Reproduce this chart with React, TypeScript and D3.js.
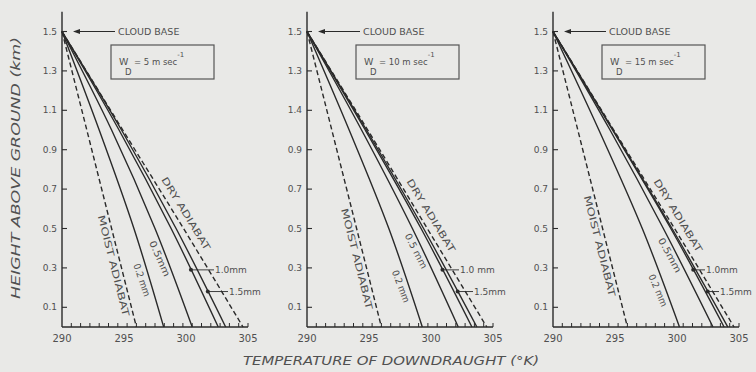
import React from "react";
import * as d3 from "d3";

// ---------- data ----------
const HEIGHTS = [1.5, 1.0, 0.5, 0];
const SPEEDS = ["5", "10", "15"];
const X_TICK_LABELS = [290, 295, 300, 305];
const Y_TICK_VALUES = [0.1, 0.3, 0.5, 0.7, 0.9, 1.1, 1.3, 1.5];
const Y_LABELS_1 = ["0.1", "0.3", "0.5", "0.7", "0.9", "1.1", "1.3", "1.5"];
const Y_LABELS_2 = ["0.1", "0.3", "0.5", "0.7", "0.9", "1.4", "1.3", "1.5"];
const Y_LABELS_3 = ["0.1", "0.3", "0.5", "0.7", "0.9", "1.1", "1.3", "1.5"];

// temperatures (K) at HEIGHTS for each panel
const dry5 = [290, 294.9, 299.8, 304.6];
const moist5 = [290, 292.0, 294.0, 296.0];
const mm02_5 = [290, 293.0, 295.8, 298.2];
const mm05_5 = [290, 294.0, 297.5, 300.5];
const mm10_5 = [290, 294.6, 298.8, 302.6];
const mm15_5 = [290, 294.8, 299.2, 303.2];

const dry10 = [290, 294.9, 299.7, 304.5];
const moist10 = [290, 292.0, 294.0, 296.0];
const mm02_10 = [290, 293.4, 296.6, 299.3];
const mm05_10 = [290, 294.4, 298.5, 302.2];
const mm10_10 = [290, 294.7, 299.2, 303.3];
const mm15_10 = [290, 294.8, 299.4, 303.7];

const dry15 = [290, 294.9, 299.8, 304.6];
const moist15 = [290, 292.0, 294.0, 296.0];
const mm02_15 = [290, 293.7, 297.2, 300.2];
const mm05_15 = [290, 294.6, 298.9, 302.9];
const mm10_15 = [290, 294.8, 299.5, 303.8];
const mm15_15 = [290, 294.85, 299.6, 304.1];

// label heights (km) along each curve
const LABEL_H_MOIST = [0.32, 0.355, 0.42];
const LABEL_H_02 = [0.25, 0.22, 0.2];
const LABEL_H_05 = [0.36, 0.4, 0.38];
const LABEL_H_DRY = [0.55, 0.54, 0.54];
const LABEL_02_TEXT = ["0.2 mm", "0.2 mm", "0.2 mm"];
const LABEL_05_TEXT = ["0.5mm", "0.5 mm", "0.5mm"];
const LABEL_10_TEXT = ["1.0mm", "1.0 mm", "1.0mm"];
const LABEL_15_TEXT = ["1.5mm", "1.5mm", "1.5mm"];
const DOT_H_10 = 0.29;
const DOT_H_15 = 0.18;

// ---------- layout ----------
const W = 756;
const H = 372;
const PANEL_X0 = [62, 307, 553];
const PANEL_W = 186;
const Y_BASE = 327;
const Y_TOP15 = 31.5;
const BG = "#e9e9e7";
const INK = "#2a2a2a";
const TXT = "#505050";
const FONT = "'DejaVu Sans', 'Liberation Sans', sans-serif";

type Series = { temps: number[]; dashed: boolean };

function interpT(temps: number[], h: number) {
  for (let i = 0; i < HEIGHTS.length - 1; i++) {
    const h0 = HEIGHTS[i], h1 = HEIGHTS[i + 1];
    if (h <= h0 && h >= h1) {
      const t = (h0 - h) / (h0 - h1);
      return temps[i] + (temps[i + 1] - temps[i]) * t;
    }
  }
  return temps[temps.length - 1];
}

function Panel({ idx }: { idx: number }) {
  const x0 = PANEL_X0[idx];
  const x = d3.scaleLinear().domain([290, 305]).range([x0, x0 + PANEL_W]);
  const y = d3.scaleLinear().domain([0, 1.5]).range([Y_BASE, Y_TOP15]);
  const sets = [
    { dry: dry5, moist: moist5, a: mm02_5, b: mm05_5, c: mm10_5, d: mm15_5 },
    { dry: dry10, moist: moist10, a: mm02_10, b: mm05_10, c: mm10_10, d: mm15_10 },
    { dry: dry15, moist: moist15, a: mm02_15, b: mm05_15, c: mm10_15, d: mm15_15 },
  ][idx];
  const yLabels = [Y_LABELS_1, Y_LABELS_2, Y_LABELS_3][idx];
  const series: Series[] = [
    { temps: sets.moist, dashed: true },
    { temps: sets.a, dashed: false },
    { temps: sets.b, dashed: false },
    { temps: sets.c, dashed: false },
    { temps: sets.d, dashed: false },
    { temps: sets.dry, dashed: true },
  ];
  const line = d3
    .line<[number, number]>()
    .x((d) => x(d[0]))
    .y((d) => y(d[1]))
    .curve(d3.curveMonotoneY);

  const angleOf = (temps: number[]) => {
    const dx = x(temps[temps.length - 1]) - x(temps[0]);
    const dy = y(0) - y(1.5);
    return Math.atan2(dy, dx);
  };

  const minorTicks = d3.range(290.75, 305.01, 0.75);
  const yTop = y(1.6);

  // label placed along curve at height h, offset perpendicular (px, + = left side)
  const rotLabel = (
    h: number,
    text: string,
    temps: number[],
    len: number,
    off: number,
    key: string
  ) => {
    const a = angleOf(temps);
    const px = x(interpT(temps, h));
    const py = y(h);
    const cx = px - Math.sin(a) * off;
    const cy = py + Math.cos(a) * off;
    const deg = (a * 180) / Math.PI;
    return (
      <text
        key={key}
        x={cx}
        y={cy}
        transform={`rotate(${deg} ${cx} ${cy})`}
        textAnchor="middle"
        dominantBaseline="central"
        fontSize={9.5}
        fill={TXT}
        fontFamily={FONT}
        textLength={len}
        lengthAdjust="spacingAndGlyphs"
      >
        {text}
      </text>
    );
  };

  const dot10x = x(interpT(sets.c, DOT_H_10));
  const dot15x = x(interpT(sets.d, DOT_H_15));
  const txt10x = x0 + 153;
  const txt15x = x0 + 167;

  return (
    <g>
      {/* axes */}
      <line x1={x0} x2={x0} y1={yTop} y2={Y_BASE} stroke={INK} strokeWidth={1.4} />
      <line x1={x0} x2={x0 + PANEL_W} y1={Y_BASE} y2={Y_BASE} stroke={INK} strokeWidth={1.6} />
      {Y_TICK_VALUES.map((v, i) => (
        <g key={"yt" + i}>
          <line x1={x0} x2={x0 + 5} y1={y(v)} y2={y(v)} stroke={INK} strokeWidth={1.1} />
          <text
            x={x0 - 5}
            y={y(v)}
            textAnchor="end"
            dominantBaseline="central"
            fontSize={9}
            fill={TXT}
            fontFamily={FONT}
          >
            {yLabels[i]}
          </text>
        </g>
      ))}
      {minorTicks.map((v, i) => (
        <line
          key={"xt" + i}
          x1={x(v)}
          x2={x(v)}
          y1={Y_BASE}
          y2={Y_BASE - 4}
          stroke={INK}
          strokeWidth={1}
        />
      ))}
      {X_TICK_LABELS.map((v) => (
        <text
          key={"xl" + v}
          x={x(v)}
          y={Y_BASE + 11}
          textAnchor="middle"
          dominantBaseline="central"
          fontSize={10}
          fill={TXT}
          fontFamily={FONT}
        >
          {v}
        </text>
      ))}
      {/* curves */}
      {series.map((s, i) => (
        <path
          key={"s" + i}
          d={line(HEIGHTS.map((h, j) => [s.temps[j], h]) as [number, number][]) || ""}
          fill="none"
          stroke={INK}
          strokeWidth={1.4}
          strokeDasharray={s.dashed ? "5 3" : undefined}
        />
      ))}
      {/* cloud base */}
      <line x1={x0 + 16} x2={x0 + 53} y1={y(1.5)} y2={y(1.5)} stroke={INK} strokeWidth={1} />
      <path
        d={`M${x0 + 11},${y(1.5)} L${x0 + 18},${y(1.5) - 2.5} L${x0 + 18},${y(1.5) + 2.5} Z`}
        fill={INK}
      />
      <text
        x={x0 + 56}
        y={y(1.5)}
        dominantBaseline="central"
        fontSize={9.5}
        fill={TXT}
        fontFamily={FONT}
      >
        CLOUD BASE
      </text>
      {/* box */}
      <rect
        x={x0 + 49}
        y={45}
        width={103}
        height={34}
        fill="none"
        stroke="#555"
        strokeWidth={1.2}
      />
      <text x={x0 + 57} y={65} fontSize={9.5} fill={TXT} fontFamily={FONT}>
        W
      </text>
      <text x={x0 + 63} y={75} fontSize={8.5} fill={TXT} fontFamily={FONT}>
        D
      </text>
      <text x={x0 + 72} y={65} fontSize={8.5} fill={TXT} fontFamily={FONT}>
        {`= ${SPEEDS[idx]} m sec`}
        <tspan dy={-8} fontSize={7}>
          -1
        </tspan>
      </text>
      {/* line labels */}
      {rotLabel(LABEL_H_MOIST[idx], "MOIST ADIABAT", sets.moist, 104, 7, "lm")}
      {rotLabel(LABEL_H_02[idx], LABEL_02_TEXT[idx], sets.a, 34, 7, "l02")}
      {rotLabel(LABEL_H_05[idx], LABEL_05_TEXT[idx], sets.b, 38, 6, "l05")}
      {rotLabel(LABEL_H_DRY[idx], "DRY ADIABAT", sets.dry, 84, -10, "ld")}
      {/* 1.0 / 1.5 annotations */}
      <circle cx={dot10x} cy={y(DOT_H_10)} r={2} fill={INK} />
      <line x1={dot10x} x2={txt10x - 1} y1={y(DOT_H_10)} y2={y(DOT_H_10)} stroke={INK} strokeWidth={0.9} />
      <text
        x={txt10x}
        y={y(DOT_H_10)}
        dominantBaseline="central"
        fontSize={9}
        fill={TXT}
        fontFamily={FONT}
      >
        {LABEL_10_TEXT[idx]}
      </text>
      <circle cx={dot15x} cy={y(DOT_H_15)} r={2} fill={INK} />
      <line x1={dot15x} x2={txt15x - 1} y1={y(DOT_H_15)} y2={y(DOT_H_15)} stroke={INK} strokeWidth={0.9} />
      <text
        x={txt15x}
        y={y(DOT_H_15)}
        dominantBaseline="central"
        fontSize={9}
        fill={TXT}
        fontFamily={FONT}
      >
        {LABEL_15_TEXT[idx]}
      </text>
    </g>
  );
}

export default function App() {
  return (
    <svg
      width={W}
      height={H}
      viewBox={`0 0 ${W} ${H}`}
      style={{ position: "absolute", left: 0, top: 0, display: "block" }}
    >
      <rect x={0} y={0} width={W} height={H} fill={BG} />
      {[0, 1, 2].map((i) => (
        <Panel key={i} idx={i} />
      ))}
      <text
        x={0}
        y={0}
        transform={`translate(20 168) rotate(-90)`}
        textAnchor="middle"
        fontSize={12}
        fontStyle="italic"
        fill={TXT}
        fontFamily={FONT}
        textLength={262}
        lengthAdjust="spacingAndGlyphs"
      >
        HEIGHT ABOVE GROUND (km)
      </text>
      <text
        x={391}
        y={365}
        textAnchor="middle"
        fontSize={11.5}
        fontStyle="italic"
        fill={TXT}
        fontFamily={FONT}
        textLength={296}
        lengthAdjust="spacingAndGlyphs"
      >
        TEMPERATURE OF DOWNDRAUGHT (°K)
      </text>
    </svg>
  );
}
